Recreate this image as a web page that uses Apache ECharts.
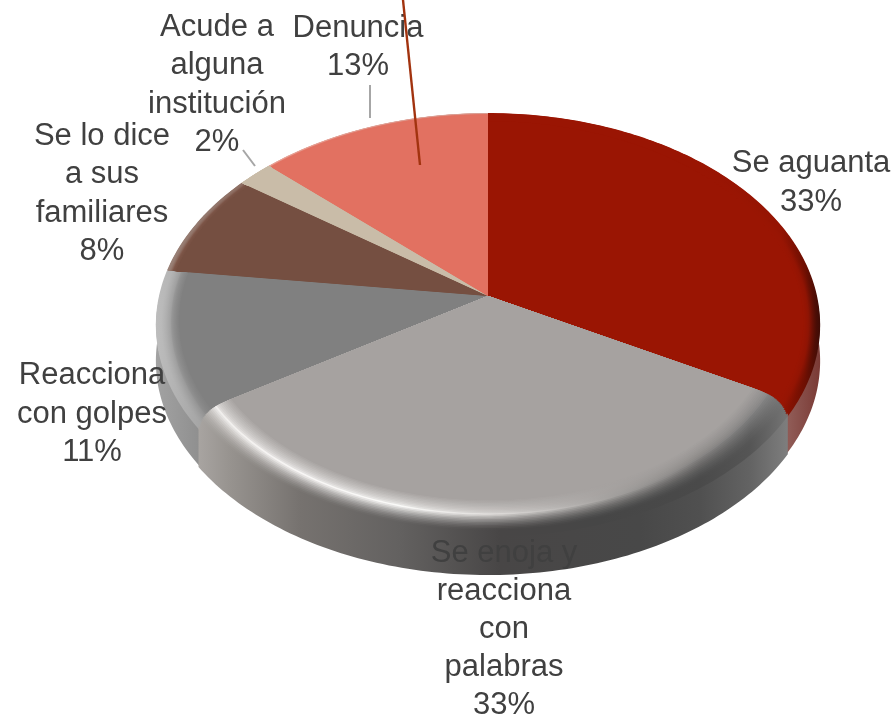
<!DOCTYPE html>
<html>
<head>
<meta charset="utf-8">
<style>html,body{margin:0;padding:0;background:#fff}#c{width:894px;height:719px}</style>
<script src="https://cdn.jsdelivr.net/npm/echarts@6/dist/echarts.min.js"></script>
</head>
<body>
<div id="c"></div>
<script>
const categories = ['Se aguanta', 'Se enoja y\nreacciona\ncon\npalabras', 'Reacciona\ncon golpes', 'Se lo dice\na sus\nfamiliares', 'Acude a\nalguna\ninstitución', 'Denuncia'];
const values = [33, 33, 11, 8, 2, 13];
const surfaceColors = ['#9a1503', '#a6a2a0', '#808080', '#754f41', '#c9bca8', '#e27161'];

// layout (text anchors and leader lines, in pixels)
const labelAnchors = [[811, 183], [504, 629.5], [92, 414], [102, 194], [217, 85], [358, 47.5]];
const leaderLines = [[[370, 85], [370, 118]], [[243, 150], [255, 166]]];
const calloutLine = [[403, 0], [420, 165]];

// projected disc: apex, half-axes and perspective strength
const disc = { cx: 488, cy: 296, a: 329, b: 208, k: 0.137 };
const xSpan = [156, 820];
const wallDepth = [36, 38, 36, 36, 36, 36];
const layerZ = [10, 60, 10, 10, 10, 10];
// how far the rim is pulled back (corner rounding) or tucked under a neighbour, as a share of the disc
const rimInset = [[0, -0.012], [0.01, 0.01], [-0.014, 0], [0, 0], [0, 0], [0, 0]];
const cornerRound = [false, true, false, false, false, false];
const wallLift = 3;

// wall colours along x: [x, colour]
const wallStops = [
  [[700, '#8a4a45'], [790, '#8f5a55'], [820, '#7a3a35']],
  [[195, '#aaa6a3'], [230, '#97938f'], [300, '#76726f'], [400, '#636160'], [500, '#484646'], [640, '#484848'], [700, '#505050'], [750, '#636363'], [788, '#7e7e7e']],
  [[156, '#a2a2a2'], [200, '#8f8f8f']],
  [[156, '#8a6a5e'], [200, '#7a5a4e']],
  [[156, '#b0a590'], [260, '#b0a590']],
  [[260, '#c0604f'], [488, '#c0604f']]
];
// bevel: width in disc radius, and along x [x, outer colour, highlight colour]
const bevels = [
  { w: 0.05, rows: [[700, '#9a1503', '#9a1503'], [780, '#951403', '#981503'], [805, '#6e0f02', '#8c1303'], [822, '#3e0c06', '#70150a']] },
  { w: 0.135, rows: [[195, '#aaa6a3', '#eeecea'], [230, '#97938f', '#f2f0ee'], [300, '#76726f', '#f8f6f5'], [400, '#636160', '#fafaf8'], [500, '#484646', '#dcd9d7'], [600, '#464646', '#a8a5a3'], [700, '#4a4a4a', '#7d7b7a'], [750, '#555555', '#7a7a7a'], [788, '#757575', '#8c8c8c']] },
  { w: 0.07, rows: [[156, '#bdbdbd', '#a8a8a8'], [210, '#a0a0a0', '#8e8e8e']] },
  { w: 0.03, rows: [[160, '#9a8278', '#80584a'], [260, '#8c6c60', '#7a5245']] },
  { w: 0.01, rows: [[240, '#c9bca8', '#c9bca8'], [280, '#c9bca8', '#c9bca8']] },
  { w: 0.015, rows: [[270, '#e8a296', '#e27161'], [488, '#d8a096', '#e27161']] }
];
const bevelLayers = 26;

function project(t, frac) {
  const ang = frac * 2 * Math.PI;
  const u = t * Math.sin(ang), v = -t * Math.cos(ang);
  const d = 1 - disc.k * v;
  return [disc.cx + disc.a * u / d, disc.cy + disc.b * v / d];
}
function arc(t, f0, f1) {
  const n = Math.max(4, Math.ceil((f1 - f0) * 360));
  const pts = [];
  for (let i = 0; i <= n; i++) pts.push(project(t, f0 + (f1 - f0) * i / n));
  return pts;
}
function gradient(stops) {
  const x0 = xSpan[0], w = xSpan[1] - xSpan[0];
  return {
    type: 'linear', global: true, x: x0, y: 0, x2: x0 + w, y2: 0,
    colorStops: stops.map(s => ({ offset: Math.min(1, Math.max(0, (s[0] - x0) / w)), color: s[1] }))
  };
}
function layerColor(row, s, surface) {
  // s: 0 outer edge, 1 inner edge of the bevel
  const flat = 0.16, peak = 0.6;
  if (s < flat) return row[1];
  if (s < peak) return echarts.color.lerp(Math.pow((s - flat) / (peak - flat), 1.6), [row[1], row[2]]);
  return echarts.color.lerp(Math.pow((s - peak) / (1 - peak), 0.6), [row[2], surface]);
}
const total = values.reduce((a, b) => a + b, 0);

function renderSlice(params, api) {
  const i = params.dataIndex;
  const val = api.value(0);
  let before = 0;
  for (let j = 0; j < i; j++) before += values[j];
  const f0 = before / total, f1 = (before + val) / total;
  const children = [];
  const z = layerZ[i];
  const in0 = rimInset[i][0], in1 = rimInset[i][1];
  // wall: its upper edge runs slightly under the top face so no seam shows
  const outer = arc(1, f0 + in0, f1 - in1);
  const low = outer.map(p => [p[0], p[1] + wallDepth[i]]).reverse();
  const under = outer.map(p => [p[0], p[1] + (p[1] > disc.cy + 30 ? -wallLift : wallLift)]);
  children.push({
    type: 'polygon', z2: z - 5, silent: true,
    shape: { points: under.concat(low) },
    style: { fill: gradient(wallStops[i]) }
  });
  // bevel, painted from the outer edge inwards, then the flat surface
  const b = bevels[i];
  for (let k = 0; k < bevelLayers; k++) {
    const s = k / (bevelLayers - 1);
    const t = 1 - b.w * s;
    const ease = cornerRound[i] ? Math.pow(1 - s, 3) : 1;
    children.push({
      type: 'polygon', z2: z + k, silent: true,
      shape: { points: [[disc.cx, disc.cy]].concat(arc(t, f0 + in0 * ease, f1 - in1 * ease)) },
      style: { fill: gradient(b.rows.map(r => [r[0], layerColor(r, s, surfaceColors[i])])) }
    });
  }
  children.push({
    type: 'polygon', z2: z + bevelLayers, silent: true,
    shape: { points: [[disc.cx, disc.cy]].concat(arc(1 - b.w, f0, f1)) },
    style: { fill: surfaceColors[i] }
  });
  // label
  children.push({
    type: 'text', z2: 200, silent: true,
    style: {
      text: categories[i] + '\n' + val + '%',
      x: labelAnchors[i][0], y: labelAnchors[i][1],
      align: 'center', verticalAlign: 'middle',
      fontSize: 31, lineHeight: 38.2, fontFamily: '"Liberation Sans", Arial, sans-serif',
      fill: '#404040'
    }
  });
  return { type: 'group', children };
}

const chart = echarts.init(document.getElementById('c'), null, { renderer: 'canvas' });
chart.setOption({
  animation: false,
  backgroundColor: '#ffffff',
  series: [{
    type: 'custom',
    coordinateSystem: 'none',
    clip: false,
    renderItem: renderSlice,
    data: values.map((v, i) => ({ name: categories[i], value: [v] }))
  }],
  graphic: leaderLines.map(l => ({
    type: 'line', z: 90, silent: true,
    shape: { x1: l[0][0], y1: l[0][1], x2: l[1][0], y2: l[1][1] },
    style: { stroke: '#a6a6a6', lineWidth: 2 }
  })).concat([{
    type: 'line', z: 90, silent: true,
    shape: { x1: calloutLine[0][0], y1: calloutLine[0][1], x2: calloutLine[1][0], y2: calloutLine[1][1] },
    style: { stroke: '#a2330f', lineWidth: 2.4 }
  }])
});
</script>
</body>
</html>
